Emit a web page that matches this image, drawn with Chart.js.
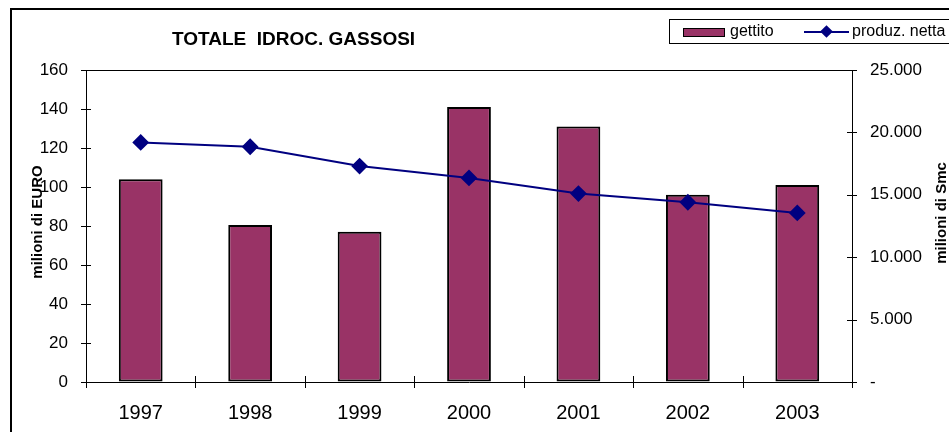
<!DOCTYPE html>
<html>
<head>
<meta charset="utf-8">
<script src="https://cdn.jsdelivr.net/npm/chart.js@4"></script>
<style>
  body { margin: 0; background: #fff; overflow: hidden; font-family: "Liberation Sans", Arial, sans-serif; }
  #wrap { position: relative; width: 949px; height: 432px; }
  #frame { position: absolute; left: 10px; top: 8px; width: 1000px; height: 500px; border-left: 2px solid #000; border-top: 2px solid #000; }
  #titolo { position: absolute; left: 172px; top: 28px; font-size: 19px; font-weight: bold; white-space: pre; }
  #legenda { position: absolute; left: 669px; top: 19px; width: 400px; height: 23px; border: 1px solid #000; font-size: 16px; }
  .sw { position: absolute; left: 13px; top: 8px; width: 40px; height: 7px; background: #993366; border: 1px solid #000; }
  .t1 { position: absolute; left: 60px; top: 2px; }
  .ln { position: absolute; left: 134px; top: 11px; width: 45px; height: 2px; background: #000080; }
  .dm { position: absolute; left: 152px; top: 7px; width: 9px; height: 9px; background: #000080; transform: rotate(45deg); }
  .t2 { position: absolute; left: 182px; top: 2px; }
  canvas { position: absolute; left: 0; top: 0; }
</style>
</head>
<body>
<div id="wrap">
  <canvas id="grafico" width="949" height="432"></canvas>
  <div id="frame"></div>
  <div id="titolo">TOTALE  IDROC. GASSOSI</div>
  <div id="legenda">
    <div class="sw"></div><span class="t1">gettito</span>
    <div class="ln"></div><div class="dm"></div><span class="t2">produz. netta</span>
  </div>
</div>
<script>
const anni = ["1997", "1998", "1999", "2000", "2001", "2002", "2003"];
const gettito = [104, 80.5, 77, 141, 131, 96, 101];          // milioni di EURO
const produzNetta = [19200, 18850, 17300, 16350, 15100, 14400, 13550]; // milioni di Smc

function formatoPunti(v) {
  if (v === 0) return "-";
  return String(v).replace(/\B(?=(\d{3})+(?!\d))/g, ".");
}

// cornice dell'area del grafico, tacche incrociate e titoli degli assi
const decorazioni = {
  id: "decorazioni",
  afterDraw(chart) {
    const ctx = chart.ctx;
    const a = chart.chartArea;
    const x = chart.scales.x, y = chart.scales.y, y1 = chart.scales.y1;
    ctx.save();
    ctx.strokeStyle = "#000";
    ctx.lineWidth = 1;
    ctx.beginPath();
    ctx.moveTo(a.left, a.top + 0.5);
    ctx.lineTo(a.right, a.top + 0.5);
    ctx.stroke();

    ctx.beginPath();
    y.ticks.forEach(t => {
      const py = Math.round(y.getPixelForValue(t.value)) + 0.5;
      ctx.moveTo(a.left - 5, py);
      ctx.lineTo(a.left + 5, py);
    });
    y1.ticks.forEach(t => {
      const py = Math.round(y1.getPixelForValue(t.value)) + 0.5;
      ctx.moveTo(a.right - 5, py);
      ctx.lineTo(a.right + 5, py);
    });
    const passo = x.getPixelForValue(1) - x.getPixelForValue(0);
    for (let i = 0; i <= anni.length; i++) {
      const px = Math.round(x.getPixelForValue(0) - passo / 2 + i * passo) + 0.5;
      ctx.moveTo(px, a.bottom - 6);
      ctx.lineTo(px, a.bottom + 6);
    }
    ctx.stroke();

    ctx.fillStyle = "#000";
    ctx.font = "bold 15px 'Liberation Sans', Arial";
    ctx.textAlign = "center";
    ctx.textBaseline = "middle";
    ctx.translate(38, 222);
    ctx.rotate(-Math.PI / 2);
    ctx.fillText("milioni di EURO", 0, 0);
    ctx.setTransform(1, 0, 0, 1, 0, 0);
    ctx.translate(942, 213);
    ctx.rotate(-Math.PI / 2);
    ctx.fillText("milioni di Smc", 0, 0);
    ctx.restore();
  }
};

const ctx = document.getElementById("grafico").getContext("2d");
new Chart(ctx, {
  data: {
    labels: anni,
    datasets: [
      {
        type: "line",
        label: "produz. netta",
        data: produzNetta,
        yAxisID: "y1",
        borderColor: "#000080",
        backgroundColor: "#000080",
        borderWidth: 2,
        pointStyle: "rectRot",
        pointRadius: 7,
        pointHoverRadius: 7,
        tension: 0,
        order: 0,
      },
      {
        type: "bar",
        label: "gettito",
        data: gettito,
        yAxisID: "y",
        backgroundColor: "#993366",
        borderColor: "#000",
        borderWidth: 2,
        borderSkipped: false,
        barPercentage: 0.4,
        categoryPercentage: 1,
        order: 1,
      },
    ],
  },
  options: {
    responsive: false,
    animation: false,
    layout: { padding: { top: 70, left: 0, right: 0, bottom: 0 } },
    plugins: {
      legend: { display: false },
      tooltip: { enabled: false },
    },
    scales: {
      x: {
        grid: { display: false, drawTicks: false },
        border: { display: true, color: "#000", width: 1 },
        ticks: { color: "#000", padding: 19, font: { family: "'Liberation Sans', Arial", size: 20 } },
        afterFit: s => { s.height = 50; },
      },
      y: {
        position: "left",
        min: 0,
        max: 160,
        ticks: { stepSize: 20, color: "#000", padding: 18, font: { family: "'Liberation Sans', Arial", size: 17 } },
        grid: { drawOnChartArea: false, drawTicks: false },
        border: { display: true, color: "#000", width: 1 },
        afterFit: s => { s.width = 86; },
      },
      y1: {
        position: "right",
        min: 0,
        max: 25000,
        ticks: { stepSize: 5000, color: "#000", padding: 18, callback: v => formatoPunti(v), font: { family: "'Liberation Sans', Arial", size: 17 } },
        grid: { drawOnChartArea: false, drawTicks: false },
        border: { display: true, color: "#000", width: 1 },
        afterFit: s => { s.width = 97; },
      },
    },
  },
  plugins: [decorazioni],
});
</script>
</body>
</html>
